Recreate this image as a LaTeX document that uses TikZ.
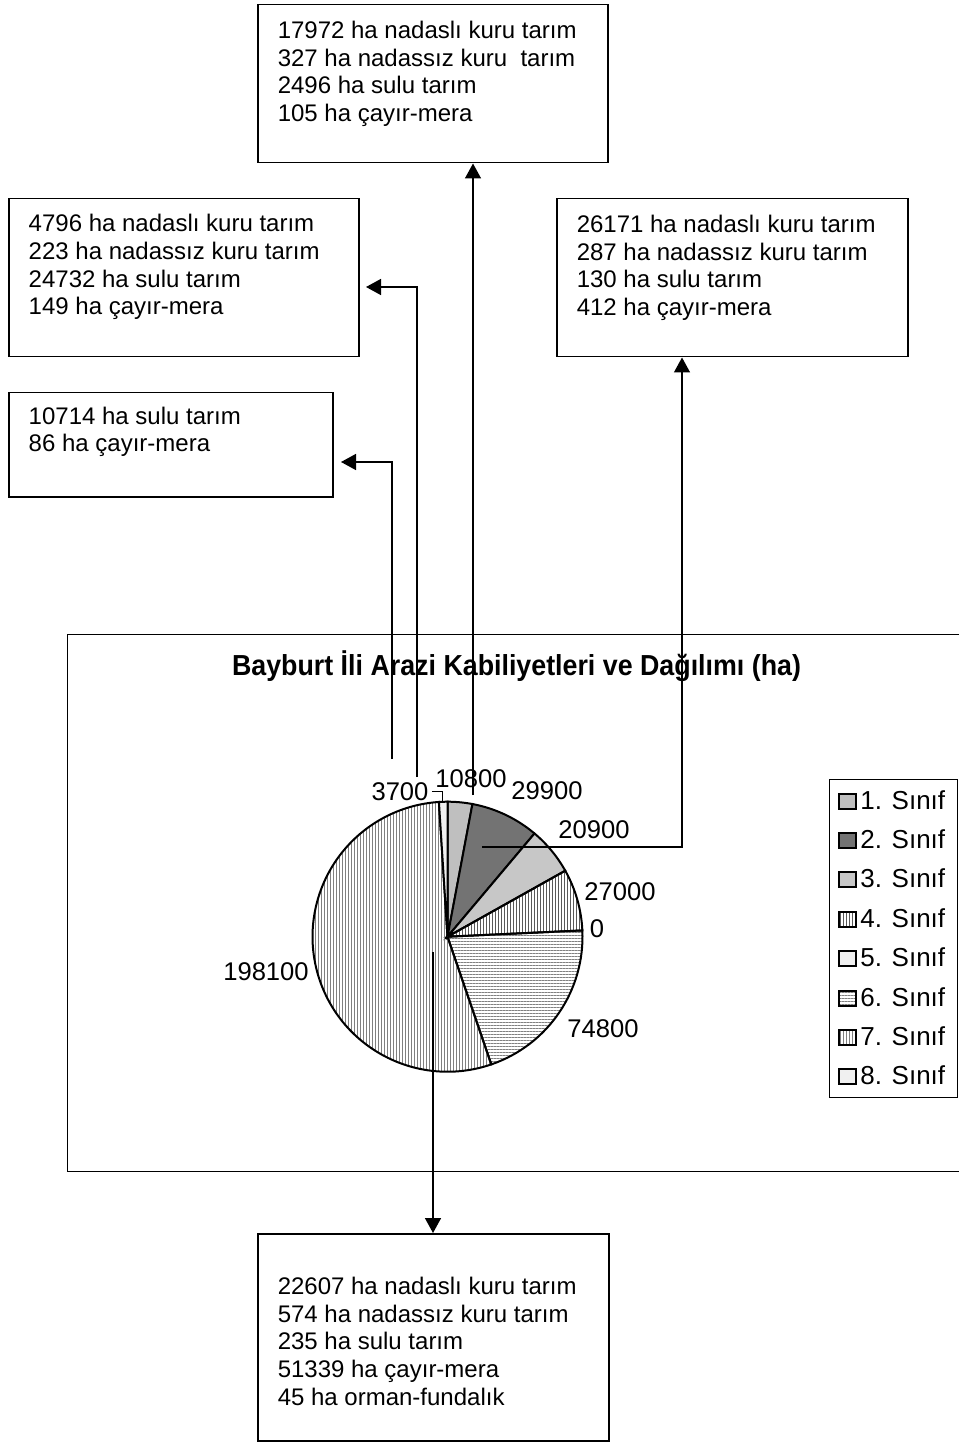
\documentclass[tikz,border=0pt]{standalone}
\usepackage{fontspec}
\setmainfont{Liberation Sans}
\usetikzlibrary{arrows.meta, patterns.meta}

\tikzset{
    kutu/.style={draw, line width=0.75pt, anchor=north west, inner xsep=10pt, inner ysep=0pt,
        font=\fontsize{12}{13.8}\selectfont},
    ok/.style={line width=0.75pt, -{Triangle[length=7.5pt, width=8pt]}},
    dilim/.style={draw, line width=1pt},
    etiket/.style={anchor=base, inner sep=0pt, font=\fontsize{12.8}{14}\selectfont},
    isaret/.style={draw, line width=1pt, minimum width=8.5pt, minimum height=7.5pt, inner sep=0pt},
    lejyazi/.style={anchor=base west, inner sep=0pt, font=\fontsize{13}{15}\selectfont},
    baslik/.style={anchor=base, inner sep=0pt, font=\fontsize{13.4}{16}\selectfont\bfseries},
    sinif1/.style={fill=black!25},
    sinif2/.style={fill=black!55},
    sinif3/.style={fill=black!22},
    sinif4/.style={pattern={Lines[angle=90, distance=1.5pt, line width=0.5pt]}, pattern color=black!65},
    sinif5/.style={fill=black!6},
    sinif6/.style={pattern={Lines[angle=0, distance=1.5pt, line width=0.5pt]}, pattern color=black!50},
    sinif7/.style={pattern={Lines[angle=90, distance=1.5pt, line width=0.5pt]}, pattern color=black!50},
    sinif8/.style={fill=black!6}
}
% kutu icindeki yazi: genislik, yukseklik, ilk satir taban cizgisi, satirlar
\newcommand{\kutuyazi}[4]{\parbox[c][#2][t]{#1}{\raggedright\rule{0pt}{#3}#4}}

\begin{document}
\begin{tikzpicture}[x=0.5pt, y=-0.5pt]
    \useasboundingbox (0,0) rectangle (959,1443);

    % grafik alani
    \draw[line width=0.5pt] (959,634) -| (67,1171) -- (959,1171);
    \node[baslik] (baslik) at (516.5,675) {\scalebox{1}[1.08]{Bayburt İli Arazi Kabiliyetleri ve Dağılımı (ha)}};

    % pasta
    \coordinate (merkez) at (447.5,936.7);
    \foreach \i/\ilk/\son in {1/-90/-79.354, 2/-79.354/-49.880, 3/-49.880/-29.278,
            4/-29.278/-2.662, 6/-2.662/71.073, 7/71.073/266.352, 8/266.352/270}
        \draw[dilim, sinif\i] (merkez) -- ++(\ilk:135) arc[start angle=\ilk, end angle=\son, radius=135] -- cycle;

    % dilim etiketleri
    \node[etiket] (e8) at (400,800) {3700};
    \node[etiket] (e1) at (471,787) {10800};
    \node[etiket] (e2) at (547,799) {29900};
    \node[etiket] (e3) at (594,838) {20900};
    \node[etiket] (e4) at (620,900) {27000};
    \node[etiket] (e5) at (597,937) {0};
    \node[etiket] (e6) at (603,1037) {74800};
    \node[etiket] (e7) at (266,980) {198100};
    \coordinate (d8) at (442,802);
    \draw[line width=0.5pt] ([xshift=1.5pt]e8.east) -| (d8);

    % lejant
    \node[draw, line width=0.5pt, anchor=north west, minimum width=64pt, minimum height=159pt,
        inner sep=0pt] (lejant) at (829,779) {};
    \foreach \i in {1,...,8}{
        \pgfmathsetmacro{\yy}{801+39.4*(\i-1)}
        \node[isaret, sinif\i] (m\i) at (847.5,\yy) {};
        \node[lejyazi] (l\i) at (860,{\yy+8}) {\i. Sınıf};
    }

    % kutular
    \node[kutu] (ust) at (257,4) {\kutuyazi{155pt}{79pt}{16.9pt}{17972 ha nadaslı kuru tarım\\
        327 ha nadassız kuru\ \ tarım\\2496 ha sulu tarım\\105 ha çayır-mera}};
    \node[kutu] (solust) at (8,198) {\kutuyazi{155pt}{79pt}{16.6pt}{4796 ha nadaslı kuru tarım\\
        223 ha nadassız kuru tarım\\24732 ha sulu tarım\\149 ha çayır-mera}};
    \node[kutu] (sagust) at (556,198) {\kutuyazi{155.5pt}{79pt}{16.9pt}{26171 ha nadaslı kuru tarım\\
        287 ha nadassız kuru tarım\\130 ha sulu tarım\\412 ha çayır-mera}};
    \node[kutu] (solalt) at (8,392) {\kutuyazi{142pt}{52pt}{15.7pt}{10714 ha sulu tarım\\
        86 ha çayır-mera}};
    \node[kutu] (alt) at (257,1233) {\kutuyazi{155.5pt}{103.5pt}{30.5pt}{22607 ha nadaslı kuru tarım\\
        574 ha nadassız kuru tarım\\235 ha sulu tarım\\51339 ha çayır-mera\\45 ha orman-fundalık}};

    % baglantilar
    \coordinate (c1) at (392,759);
    \coordinate (c2) at (417,777);
    \coordinate (c3) at (473,795);
    \coordinate (c4) at (482,847);
    \coordinate (d4) at (682,847);
    \coordinate (c6) at (433,952);
    \coordinate (u1) at (341,462);
    \coordinate (u2) at (366,287);
    \draw[ok] (c1) |- (u1);
    \draw[ok] (c2) |- (u2);
    \draw[ok] (c3) -- (c3 |- ust.south);
    \draw[ok] (c4) -- (d4) -- (d4 |- sagust.south);
    \draw[ok] (c6) -- (c6 |- alt.north);
\end{tikzpicture}
\end{document}
